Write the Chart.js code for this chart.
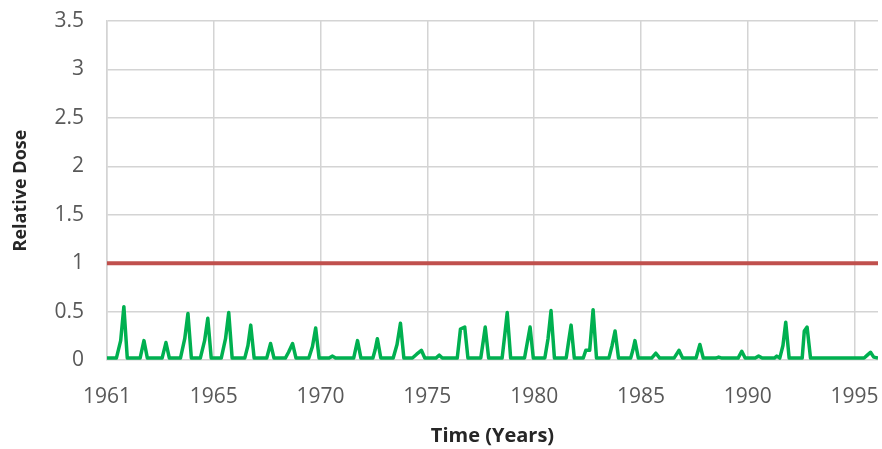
<!DOCTYPE html>
<html>
<head>
<meta charset="utf-8">
<script src="https://cdn.jsdelivr.net/npm/chart.js@4.4.1/dist/chart.umd.min.js"></script>
<style>
  html, body { margin: 0; padding: 0; background: #fff; }
  #wrap { width: 882px; height: 449px; }
</style>
</head>
<body>
<div id="wrap"><canvas id="doseChart" width="882" height="449"></canvas></div>
<script>
// tick positions on the time axis and the labels shown under them
var tickYears = [1960, 1965, 1970, 1975, 1980, 1985, 1990, 1995];
var tickLabels = ['1961', '1965', '1970', '1975', '1980', '1985', '1990', '1995'];

// limit line (relative dose = 1)
var limitX = [1960, 1996.1];
var limitY = [1, 1];

// relative dose
var doseX = [
  1960.0, 1960.44, 1960.64, 1960.79, 1960.95,
  1961.55, 1961.73, 1961.89,
  1962.58, 1962.76, 1962.92,
  1963.44, 1963.64, 1963.79, 1963.95,
  1964.37, 1964.57, 1964.72, 1964.88,
  1965.35, 1965.55, 1965.70, 1965.86,
  1966.45, 1966.60, 1966.73, 1966.89,
  1967.48, 1967.66, 1967.82,
  1968.35, 1968.50, 1968.69, 1968.85,
  1969.45, 1969.62, 1969.77, 1969.93,
  1970.40, 1970.56, 1970.70,
  1971.55, 1971.73, 1971.89,
  1972.45, 1972.55, 1972.66, 1972.82,
  1973.40, 1973.58, 1973.74, 1973.90,
  1974.30, 1974.50, 1974.72, 1974.88,
  1975.40, 1975.56, 1975.70,
  1976.40, 1976.55, 1976.75, 1976.90,
  1977.50, 1977.62, 1977.71, 1977.87,
  1978.50, 1978.62, 1978.74, 1978.90,
  1979.55, 1979.68, 1979.81, 1979.96,
  1980.50, 1980.65, 1980.79, 1980.95,
  1981.50, 1981.62, 1981.73, 1981.88,
  1982.30, 1982.42, 1982.60, 1982.76, 1982.92,
  1983.50, 1983.65, 1983.79, 1983.95,
  1984.52, 1984.62, 1984.72, 1984.88,
  1985.50, 1985.70, 1985.88,
  1986.55, 1986.78, 1986.95,
  1987.58, 1987.76, 1987.92,
  1988.50, 1988.64, 1988.80,
  1989.55, 1989.72, 1989.88,
  1990.35, 1990.51, 1990.68,
  1991.25, 1991.36, 1991.50, 1991.65, 1991.78, 1991.94,
  1992.55, 1992.65, 1992.78, 1992.94,
  1995.45, 1995.60, 1995.75, 1995.90, 1996.1
];
var doseY = [
  0.02, 0.02, 0.20, 0.55, 0.02,
  0.02, 0.20, 0.02,
  0.02, 0.18, 0.02,
  0.02, 0.22, 0.48, 0.02,
  0.02, 0.20, 0.43, 0.02,
  0.02, 0.22, 0.49, 0.02,
  0.02, 0.15, 0.36, 0.02,
  0.02, 0.17, 0.02,
  0.02, 0.08, 0.17, 0.02,
  0.02, 0.14, 0.33, 0.02,
  0.02, 0.04, 0.02,
  0.02, 0.20, 0.02,
  0.02, 0.10, 0.22, 0.02,
  0.02, 0.16, 0.38, 0.02,
  0.02, 0.06, 0.10, 0.02,
  0.02, 0.05, 0.02,
  0.02, 0.32, 0.34, 0.02,
  0.02, 0.20, 0.34, 0.02,
  0.02, 0.25, 0.49, 0.02,
  0.02, 0.18, 0.34, 0.02,
  0.02, 0.22, 0.51, 0.02,
  0.02, 0.20, 0.36, 0.02,
  0.02, 0.10, 0.10, 0.52, 0.02,
  0.02, 0.15, 0.30, 0.02,
  0.02, 0.10, 0.20, 0.02,
  0.02, 0.07, 0.02,
  0.02, 0.10, 0.02,
  0.02, 0.16, 0.02,
  0.02, 0.03, 0.02,
  0.02, 0.09, 0.02,
  0.02, 0.04, 0.02,
  0.02, 0.04, 0.02, 0.15, 0.39, 0.02,
  0.02, 0.30, 0.34, 0.02,
  0.02, 0.05, 0.08, 0.03, 0.02
];

function toPoints(xs, ys) {
    return xs.map(function (x, i) { return { x: x, y: ys[i] }; });
}

var fontFamily = "'Open Sans', 'Liberation Sans', sans-serif";
var gridColor = '#d4d4d4';

new Chart(document.getElementById('doseChart').getContext('2d'), {
    type: 'line',
    data: {
        datasets: [
            {
                label: 'Limit',
                data: toPoints(limitX, limitY),
                borderColor: '#c0504d',
                borderWidth: 4,
                pointRadius: 0,
                tension: 0
            },
            {
                label: 'Relative Dose',
                data: toPoints(doseX, doseY),
                borderColor: '#00b050',
                borderWidth: 3.5,
                pointRadius: 0,
                tension: 0,
                borderJoinStyle: 'round'
            }
        ]
    },
    options: {
        responsive: false,
        animation: false,
        layout: { padding: { top: 21, right: 4, left: 0, bottom: 0 } },
        plugins: {
            legend: { display: false },
            tooltip: { enabled: false }
        },
        scales: {
            x: {
                type: 'linear',
                min: 1960,
                max: 1996.1,
                afterBuildTicks: function (scale) {
                    scale.ticks = tickYears.map(function (v) { return { value: v }; });
                },
                afterFit: function (scale) {
                    scale.height = 89;
                    scale.paddingLeft = 0;
                    scale.paddingRight = 0;
                },
                grid: { color: gridColor, lineWidth: 1.5, drawTicks: false },
                border: { display: false },
                ticks: {
                    padding: 24,
                    maxRotation: 0,
                    color: '#595959',
                    font: { family: fontFamily, size: 21 },
                    callback: function (value, index) { return tickLabels[index]; }
                },
                title: {
                    display: true,
                    text: 'Time (Years)',
                    color: '#262626',
                    font: { family: fontFamily, size: 20, weight: 'bold' },
                    padding: { top: 0, bottom: 1 }
                }
            },
            y: {
                min: 0,
                max: 3.5,
                afterFit: function (scale) {
                    scale.width = 107;
                    scale.paddingTop = 0;
                    scale.paddingBottom = 0;
                },
                grid: { color: gridColor, lineWidth: 1.5, drawTicks: false },
                border: { color: gridColor, width: 1.5 },
                ticks: {
                    stepSize: 0.5,
                    padding: 23,
                    color: '#595959',
                    font: { family: fontFamily, size: 21 },
                    callback: function (value) { return String(value); }
                },
                title: {
                    display: true,
                    text: 'Relative Dose',
                    color: '#262626',
                    font: { family: fontFamily, size: 18, weight: 'bold' },
                    padding: { top: 10, bottom: 0 }
                }
            }
        }
    }
});
</script>
</body>
</html>
